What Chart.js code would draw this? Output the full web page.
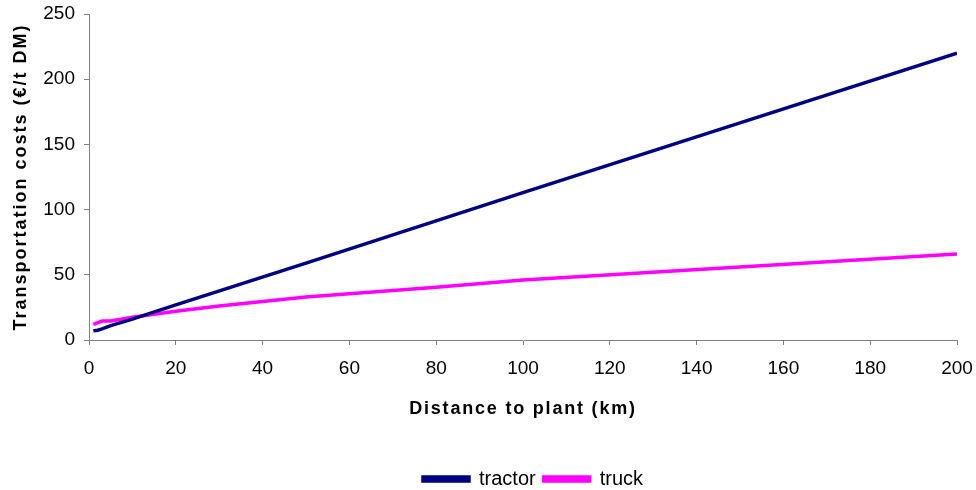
<!DOCTYPE html>
<html>
<head>
<meta charset="utf-8">
<script src="https://cdn.jsdelivr.net/npm/chart.js@4/dist/chart.umd.min.js"></script>
<style>
html,body{margin:0;padding:0;background:#fff;}
#wrap{width:976px;height:490px;position:relative;}
</style>
</head>
<body>
<div id="wrap"><canvas id="c" width="976" height="490"></canvas></div>
<script>
const tractorX = [1, 2, 3, 5, 10, 20, 50, 100, 150, 200];
const tractorY = [7, 7.5, 8.5, 11, 16, 27, 59, 113, 166.5, 220];
const truckX = [1, 3, 5, 10, 20, 30, 40, 50, 60, 80, 100, 150, 200];
const truckY = [12, 14.5, 14.5, 17.5, 22, 26, 29.5, 33, 35.5, 40.5, 46, 56, 66];
const xTicks = [0, 20, 40, 60, 80, 100, 120, 140, 160, 180, 200];
const yTicks = [0, 50, 100, 150, 200, 250];
const seriesNames = ['tractor', 'truck'];
const xTitle = 'Distance to plant (km)';
const yTitle = 'Transportation costs (€/t DM)';

const pts = (xs, ys) => xs.map((x, i) => ({x: x, y: ys[i]}));
const FONT = "'Liberation Sans', Arial, sans-serif";

const tweaks = {
  id: 'tweaks',
  afterLayout(chart) {
    if (chart.legend) { chart.legend.left += 10; chart.legend.right += 10; }
  },
  beforeDraw(chart) {
    const sp = {x: '1.8px', y: '2px'};
    for (const id of ['x', 'y']) {
      const s = chart.scales[id];
      if (s && !s._lsWrapped) {
        const orig = s.drawTitle;
        s.drawTitle = function (...a) {
          const ctx = this.ctx;
          ctx.save();
          ctx.letterSpacing = sp[id];
          orig.apply(this, a);
          ctx.restore();
        };
        s._lsWrapped = true;
      }
    }
  }
};

new Chart(document.getElementById('c'), {
  type: 'line',
  data: {
    datasets: [
      {label: seriesNames[0], data: pts(tractorX, tractorY), borderColor: '#000080', backgroundColor: '#000080', borderWidth: 3.5, pointRadius: 0, tension: 0},
      {label: seriesNames[1], data: pts(truckX, truckY), borderColor: '#FF00FF', backgroundColor: '#FF00FF', borderWidth: 3.5, pointRadius: 0, tension: 0}
    ]
  },
  plugins: [tweaks],
  options: {
    responsive: false,
    animation: false,
    layout: {padding: {left: 6, right: 19, top: 14, bottom: -9}},
    plugins: {
      legend: {
        position: 'bottom',
        fullSize: false,
        labels: {boxWidth: 46, boxHeight: 4, color: '#000', font: {family: FONT, size: 20}, padding: 8}
      },
      tooltip: {enabled: false}
    },
    scales: {
      x: {
        type: 'linear', min: 0, max: 200,
        afterBuildTicks: s => { s.ticks = xTicks.map(v => ({value: v})); },
        afterFit: s => { s.height = 121; s.paddingLeft = 0; s.paddingRight = 0; },
        border: {color: '#808080', width: 1},
        grid: {drawOnChartArea: false, color: '#808080', tickLength: 5},
        ticks: {color: '#000', font: {family: FONT, size: 19}, padding: 12, maxRotation: 0},
        title: {display: true, text: xTitle, color: '#000', font: {family: FONT, size: 18, weight: 'bold'}, padding: {top: 4, bottom: 41}}
      },
      y: {
        min: 0, max: 250,
        afterBuildTicks: s => { s.ticks = yTicks.map(v => ({value: v})); },
        afterFit: s => { s.width = 83; s.paddingTop = 0; s.paddingBottom = 0; },
        border: {color: '#808080', width: 1},
        grid: {drawOnChartArea: false, color: '#808080', tickLength: 5},
        ticks: {color: '#000', font: {family: FONT, size: 19}, padding: 9},
        title: {display: true, text: yTitle, color: '#000', font: {family: FONT, size: 18, weight: 'bold'}, padding: {bottom: 4}}
      }
    }
  }
});
</script>
</body>
</html>
